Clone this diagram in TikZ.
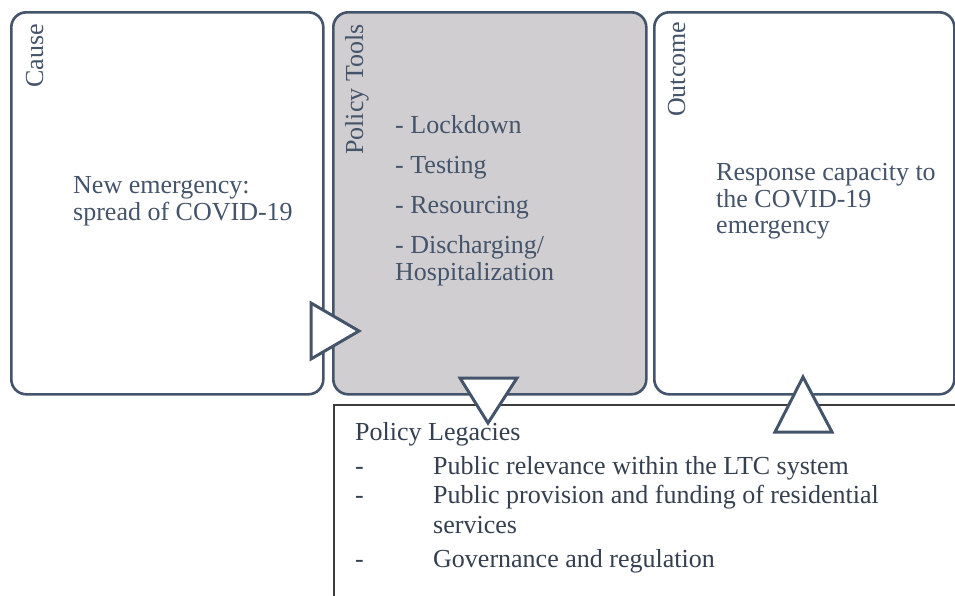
\documentclass[tikz,border=0pt]{standalone}
\usepackage{fontspec}
\setmainfont{Liberation Serif}
\definecolor{slate}{HTML}{44546A}
\definecolor{darkslate}{HTML}{343F4F}
\definecolor{toolgray}{HTML}{D0CED0}
\definecolor{leggray}{HTML}{3C3C3C}
\begin{document}
\begin{tikzpicture}[x=1pt,y=-1pt,
  panel/.style={draw=slate, line width=2.6pt, rounded corners=15pt, anchor=north west, inner sep=0pt},
  legbox/.style={draw=leggray, line width=2pt, anchor=north west, inner sep=0pt},
  tri/.style={draw=slate, fill=white, line width=3pt, line join=miter},
  txt/.style={text=slate, font=\fontsize{26}{27}\selectfont, anchor=base west, inner sep=0pt},
  ltxt/.style={text=darkslate, font=\fontsize{26}{27}\selectfont, anchor=base west, inner sep=0pt},
  vtxt/.style={txt, rotate=90}]
\useasboundingbox (0,0) rectangle (955,595);
\fill[white] (0,0) rectangle (955,595);

% Policy legacies box (extends past the page)
\node[legbox, minimum width=650pt, minimum height=220pt] (leg) at (333,404) {};

% Three panels
\node[panel, fill=white, minimum width=312pt, minimum height=382pt] (cause) at (10,11) {};
\node[panel, fill=toolgray, minimum width=313pt, minimum height=382pt] (tools) at (332,11) {};
\node[panel, fill=white, minimum width=300pt, minimum height=382pt] (outcome) at (653,11) {};

% Rotated titles
\node[vtxt] (causeT) at (43,88) {Cause};
\node[vtxt] (toolsT) at (363,155) {Policy Tools};
\node[vtxt] (outT) at (685,117) {Outcome};

% Cause text
\node[txt] (c1) at (73,193) {New emergency:};
\node[txt] (c2) at (73,220) {spread of COVID-19};

% Policy tools text
\node[txt] (t1) at (395,133) {- Lockdown};
\node[txt] (t2) at (395,173) {- Testing};
\node[txt] (t3) at (395,213) {- Resourcing};
\node[txt] (t4) at (395,253) {- Discharging/};
\node[txt] (t5) at (395,280) {Hospitalization};

% Outcome text
\node[txt] (o1) at (716,180) {Response capacity to};
\node[txt] (o2) at (716,207) {the COVID-19};
\node[txt] (o3) at (716,233) {emergency};

% Legacies text
\node[ltxt] (l0) at (355,440) {Policy Legacies};
\node[ltxt] (d1) at (355,474) {-};
\node[ltxt] (l1) at (433,474) {Public relevance within the LTC system};
\node[ltxt] (d2) at (355,503) {-};
\node[ltxt] (l2) at (433,503) {Public provision and funding of residential};
\node[ltxt] (l2b) at (433,533) {services};
\node[ltxt] (d3) at (355,567) {-};
\node[ltxt] (l3) at (433,567) {Governance and regulation};

% Triangle connectors
\coordinate (a1) at (cause.east |- 0,303);
\draw[tri] (311,303) -- (359,331) -- (311,359) -- cycle;
\draw[tri] (460,378) -- (517,378) -- (488,423) -- cycle;
\draw[tri] (803,377) -- (832,432) -- (775,432) -- cycle;
\end{tikzpicture}
\end{document}
